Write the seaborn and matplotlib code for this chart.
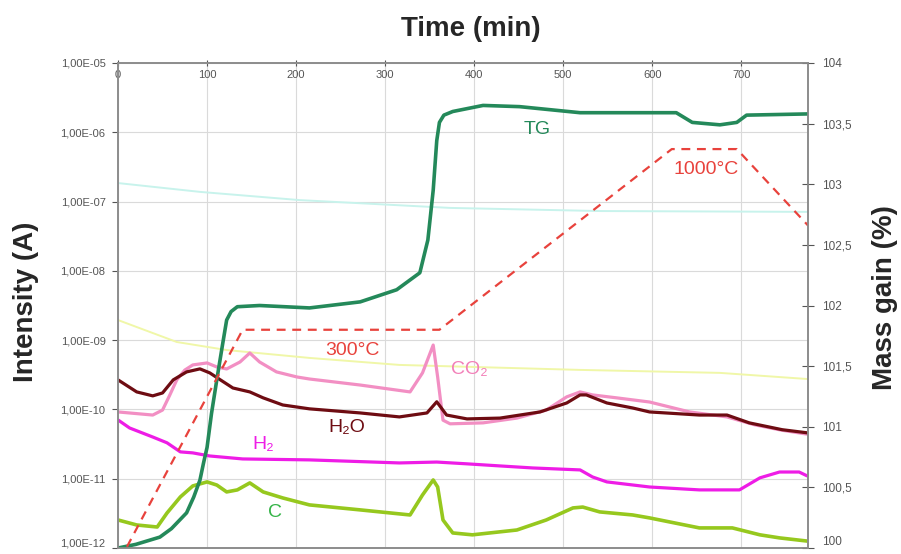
import matplotlib
matplotlib.use("Agg")
import matplotlib.pyplot as plt
import matplotlib.ticker as mticker
import seaborn as sns

# ---- data ----------------------------------------------------------------
# mass spectrometer signals (A), left log axis
t_h2o = [0, 21, 39, 50, 62, 77, 92, 103, 115, 129, 148, 163, 185, 215, 272, 316,
         347, 358, 369, 392, 429, 474, 504, 519, 526, 549, 578, 597, 653, 684, 709, 746, 774]
h2o = [2.67e-10, 1.79e-10, 1.57e-10, 1.73e-10, 2.67e-10, 3.48e-10, 3.85e-10, 3.37e-10,
       2.67e-10, 2.04e-10, 1.79e-10, 1.47e-10, 1.16e-10, 1.02e-10, 8.9e-11, 7.8e-11,
       8.9e-11, 1.29e-10, 8.3e-11, 7.3e-11, 7.5e-11, 9.2e-11, 1.24e-10, 1.62e-10,
       1.62e-10, 1.24e-10, 1.05e-10, 9.2e-11, 8.3e-11, 8.3e-11, 6.4e-11, 5.1e-11, 4.6e-11]

t_co2 = [0, 39, 50, 58, 66, 75, 84, 100, 111, 122, 137, 148, 159, 178, 201, 215, 272, 328,
         342, 354, 359, 365, 373, 410, 448, 481, 504, 519, 533, 560, 597, 642, 684,
         715, 746, 774]
co2 = [9.2e-11, 8.3e-11, 9.8e-11, 1.6e-10, 2.67e-10, 3.7e-10, 4.39e-10, 4.69e-10, 4.1e-10,
       3.84e-10, 4.84e-10, 6.53e-10, 4.84e-10, 3.48e-10, 2.94e-10, 2.75e-10, 2.25e-10,
       1.79e-10, 3.37e-10, 8.5e-10, 2.94e-10, 7.0e-11, 6.2e-11, 6.4e-11, 7.5e-11,
       9.8e-11, 1.52e-10, 1.79e-10, 1.62e-10, 1.47e-10, 1.28e-10, 9.2e-11, 7.8e-11,
       6.0e-11, 5.0e-11, 4.4e-11]

t_h2 = [0, 13, 39, 55, 70, 84, 103, 140, 215, 316, 358, 392, 429, 466, 519, 533,
        549, 597, 653, 698, 721, 743, 765, 774]
h2 = [7.05e-11, 5.4e-11, 4.0e-11, 3.3e-11, 2.44e-11, 2.36e-11, 2.13e-11, 1.93e-11,
      1.87e-11, 1.69e-11, 1.74e-11, 1.64e-11, 1.53e-11, 1.43e-11, 1.34e-11, 1.06e-11,
      9.0e-12, 7.6e-12, 6.9e-12, 6.9e-12, 1.03e-11, 1.25e-11, 1.25e-11, 1.1e-11]

t_c = [0, 21, 44, 55, 70, 84, 100, 111, 122, 134, 148, 163, 185, 215, 272, 328,
       342, 354, 359, 365, 376, 398, 448, 481, 511, 522, 541, 578, 597, 653, 690,
       721, 743, 774]
c = [2.54e-12, 2.15e-12, 2.01e-12, 3.2e-12, 5.46e-12, 7.87e-12, 9.0e-12, 8.1e-12,
     6.45e-12, 6.9e-12, 8.7e-12, 6.45e-12, 5.28e-12, 4.19e-12, 3.55e-12, 3.0e-12,
     5.83e-12, 9.6e-12, 7.6e-12, 2.54e-12, 1.65e-12, 1.55e-12, 1.82e-12, 2.54e-12,
     3.79e-12, 3.9e-12, 3.32e-12, 3.0e-12, 2.72e-12, 1.95e-12, 1.95e-12, 1.55e-12,
     1.4e-12, 1.26e-12]

t_cyan = [0, 92, 204, 373, 541, 774]
cyan = [1.85e-7, 1.38e-7, 1.05e-7, 8.1e-8, 7.3e-8, 7.1e-8]

t_yel = [0, 66, 122, 215, 316, 519, 676, 774]
yel = [1.95e-9, 9.4e-10, 7.2e-10, 5.54e-10, 4.39e-10, 3.72e-10, 3.37e-10, 2.75e-10]

# thermogravimetry (mass gain %), right axis
t_tg = [0, 20, 47, 60, 77, 85, 92, 96, 100, 105, 111, 117, 122, 127, 134, 159, 215,
        272, 313, 339, 348, 354, 358, 361, 366, 376, 410, 451, 519, 627, 645, 676,
        695, 706, 775]
tg = [100.0, 100.03, 100.09, 100.16, 100.29, 100.42, 100.56, 100.7, 100.83, 101.11,
      101.39, 101.66, 101.88, 101.95, 101.99, 102.0, 101.98, 102.03, 102.13, 102.27,
      102.54, 102.95, 103.36, 103.51, 103.57, 103.6, 103.65, 103.64, 103.59, 103.59,
      103.51, 103.49, 103.51, 103.57, 103.58]

# furnace temperature programme, drawn in right-axis units
t_temp = [10, 140, 361, 622, 695, 775]
temp_line = [100.01, 101.8, 101.8, 103.29, 103.29, 102.66]

time_ticks = [0, 100, 200, 300, 400, 500, 600, 700]
mass_ticks = [100, 100.5, 101, 101.5, 102, 102.5, 103, 103.5, 104]

# ---- figure ---------------------------------------------------------------
sns.set_style("white")
plt.rcParams['font.family'] = ['Liberation Sans', 'DejaVu Sans']

fig = plt.figure(figsize=(9.01, 5.54), dpi=100)
ax = fig.add_axes([0.131, 0.0108, 0.7658, 0.8755])

sns.lineplot(x=t_cyan, y=cyan, ax=ax, color="#c8f3ec", linewidth=1.4)
sns.lineplot(x=t_yel, y=yel, ax=ax, color="#f0f7a8", linewidth=1.4)
sns.lineplot(x=t_h2, y=h2, ax=ax, color="#ee1ce6", linewidth=2.3)
sns.lineplot(x=t_c, y=c, ax=ax, color="#96c81e", linewidth=2.6)
sns.lineplot(x=t_co2, y=co2, ax=ax, color="#f28fc3", linewidth=2.3)
sns.lineplot(x=t_h2o, y=h2o, ax=ax, color="#6e0c12", linewidth=2.3)

ax.set_yscale('log')
ax.set_ylim(1e-12, 1e-5)
ax.set_xlim(0, 775)
ax.yaxis.set_major_locator(mticker.FixedLocator([1e-12, 1e-11, 1e-10, 1e-9, 1e-8, 1e-7, 1e-6, 1e-5]))
ax.yaxis.set_minor_locator(mticker.NullLocator())
ax.yaxis.set_major_formatter(mticker.FuncFormatter(lambda v, p: f"{v:.2E}".replace('.', ',')))
ax.set_xticks(time_ticks)
ax.xaxis.set_ticks_position('top')
ax.tick_params(axis='x', top=True, labeltop=True, bottom=False, labelbottom=False,
               direction='inout', length=4, pad=-14, labelsize=8, colors='#555555')
ax.tick_params(axis='y', direction='out', length=4, labelsize=8, colors='#555555', pad=5)
ax.grid(True, color='#dadada', linewidth=0.8)
for s in ax.spines.values():
    s.set_color('#8c8c8c')
    s.set_linewidth(1.2)
ax.set_xlabel("")
ax.set_ylabel("")
# keep the lowest tick label inside the canvas
ax.yaxis.get_major_ticks()[0].label1.set_verticalalignment('bottom')

ax2 = ax.twinx()
sns.lineplot(x=t_tg, y=tg, ax=ax2, color="#24895a", linewidth=2.6)
sns.lineplot(x=t_temp, y=temp_line, ax=ax2, color="#e8423c", linewidth=1.6,
             linestyle=(0, (4, 3)))
ax2.set_ylim(100, 104)
ax2.set_xlim(0, 775)
ax2.set_yticks(mass_ticks)
ax2.yaxis.set_major_formatter(mticker.FuncFormatter(lambda v, p: f"{v:g}".replace('.', ',')))
ax2.tick_params(axis='y', direction='inout', length=8, labelsize=8.5, colors='#555555', pad=6)
ax2.grid(False)
for s in ax2.spines.values():
    s.set_color('#8c8c8c')
    s.set_linewidth(1.2)
ax2.set_ylabel("")
ax2.yaxis.get_major_ticks()[0].label2.set_verticalalignment('bottom')

# curve labels
ax2.text(471, 103.45, "TG", color="#24895a", fontsize=14, ha='center', va='center')
ax2.text(660, 103.12, "1000°C", color="#e8423c", fontsize=14, ha='center', va='center')
ax2.text(263, 101.63, "300°C", color="#e8423c", fontsize=14, ha='center', va='center')
ax2.text(395, 101.47, "CO₂", color="#f27fb8", fontsize=14, ha='center', va='center')
ax2.text(257, 100.99, "H₂O", color="#6e0c12", fontsize=14, ha='center', va='center')
ax2.text(163, 100.85, "H₂", color="#ee1ce6", fontsize=14, ha='center', va='center')
ax2.text(176, 100.29, "C", color="#35b448", fontsize=14, ha='center', va='center')

fig.text(471 / 901, 1 - 29 / 554, "Time (min)", fontsize=20, fontweight='bold',
         ha='center', va='center')
fig.text(26 / 901, 1 - 302 / 554, "Intensity (A)", fontsize=20, fontweight='bold',
         rotation=90, ha='center', va='center')
fig.text(885 / 901, 1 - 298 / 554, "Mass gain (%)", fontsize=20, fontweight='bold',
         rotation=90, ha='center', va='center')

fig.savefig("out.png", dpi=100)
